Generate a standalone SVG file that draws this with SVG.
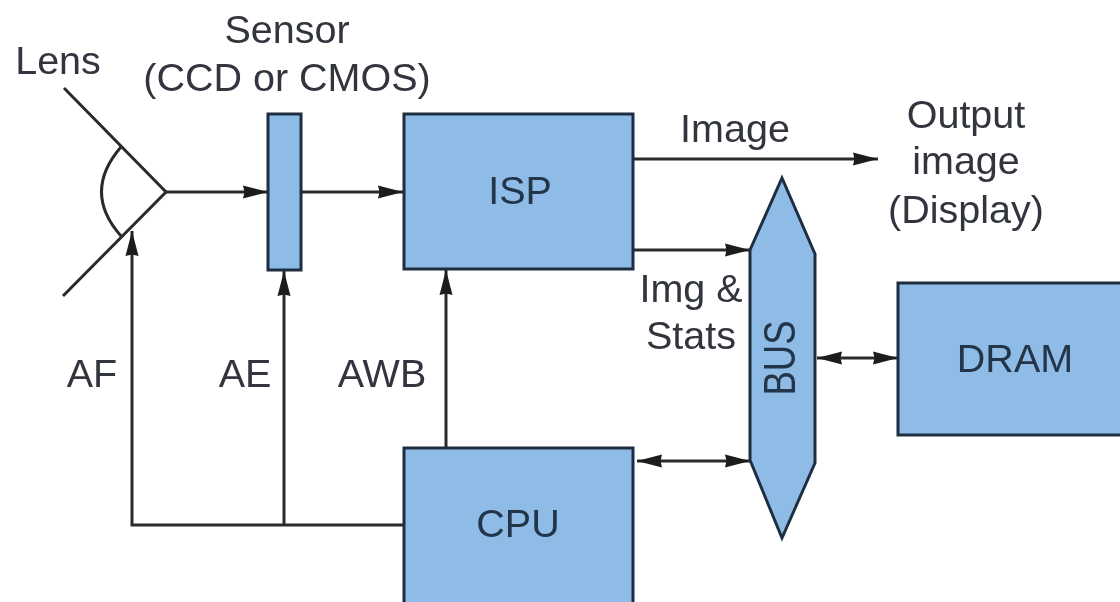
<svg xmlns="http://www.w3.org/2000/svg" width="1120" height="602" viewBox="0 0 1120 602">
<style>
.b{fill:#8fbce6;stroke:#1f2f40;stroke-width:3}
.l{fill:none;stroke:#2b2b2b;stroke-width:3}
text{font-family:"Liberation Sans",Arial,sans-serif;font-size:39.5px;fill:#30353c;text-anchor:middle}
.d{fill:#223449}
</style>
<defs>
<marker id="a" markerUnits="userSpaceOnUse" markerWidth="26" markerHeight="16" refX="25" refY="8" orient="auto-start-reverse"><path d="M0 1.500L25 8L0 14.500L1.500 8Z" fill="#1c1c1c"/></marker>
<filter id="s" x="0" y="0" width="100%" height="100%"><feGaussianBlur stdDeviation="0.7"/></filter>
</defs>
<rect width="1120" height="602" fill="#fff"/>
<g filter="url(#s)">
<g id="connectors">
<path class="l" d="M64 88L166 192L63 296"/>
<path class="l" d="M121 147Q82 192 121 236"/>
<path class="l" d="M166 192H268" marker-end="url(#a)"/>
<path class="l" d="M301 192H403" marker-end="url(#a)"/>
<path class="l" d="M633 159H878" marker-end="url(#a)"/>
<path class="l" d="M633 250H750" marker-end="url(#a)"/>
<path class="l" d="M132 231V525H404" marker-start="url(#a)"/>
<path class="l" d="M284 271V525" marker-start="url(#a)"/>
<path class="l" d="M446 270V448" marker-start="url(#a)"/>
<path class="l" d="M637 461H750" marker-start="url(#a)" marker-end="url(#a)"/>
<path class="l" d="M817 358H898" marker-start="url(#a)" marker-end="url(#a)"/>
</g>
<g id="sensor"><rect class="b" x="268" y="114" width="33" height="156"/></g>
<g id="isp"><rect class="b" x="404" y="114" width="229" height="155"/><text class="d" x="520" y="204">ISP</text></g>
<g id="cpu"><rect class="b" x="404" y="448" width="229" height="156"/><text class="d" x="518" y="537">CPU</text></g>
<g id="bus"><path class="b" d="M782 178L815 254V463L782 538L750 460V250Z"/><text class="d" transform="translate(795 358) rotate(-90)" style="font-size:44px" textLength="75" lengthAdjust="spacingAndGlyphs">BUS</text></g>
<g id="dram"><rect class="b" x="898" y="283" width="224" height="152"/><text class="d" x="1015" y="372">DRAM</text></g>
<g id="labels">
<text x="58" y="74">Lens</text>
<text x="287" y="43">Sensor</text>
<text x="287" y="91">(CCD or CMOS)</text>
<text x="735" y="142">Image</text>
<text x="966" y="128">Output</text>
<text x="966" y="174">image</text>
<text x="966" y="223">(Display)</text>
<text x="691" y="302">Img &amp;</text>
<text x="691" y="349">Stats</text>
<text x="92" y="387">AF</text>
<text x="245" y="387">AE</text>
<text x="382" y="387">AWB</text>
</g>
</g>
</svg>
